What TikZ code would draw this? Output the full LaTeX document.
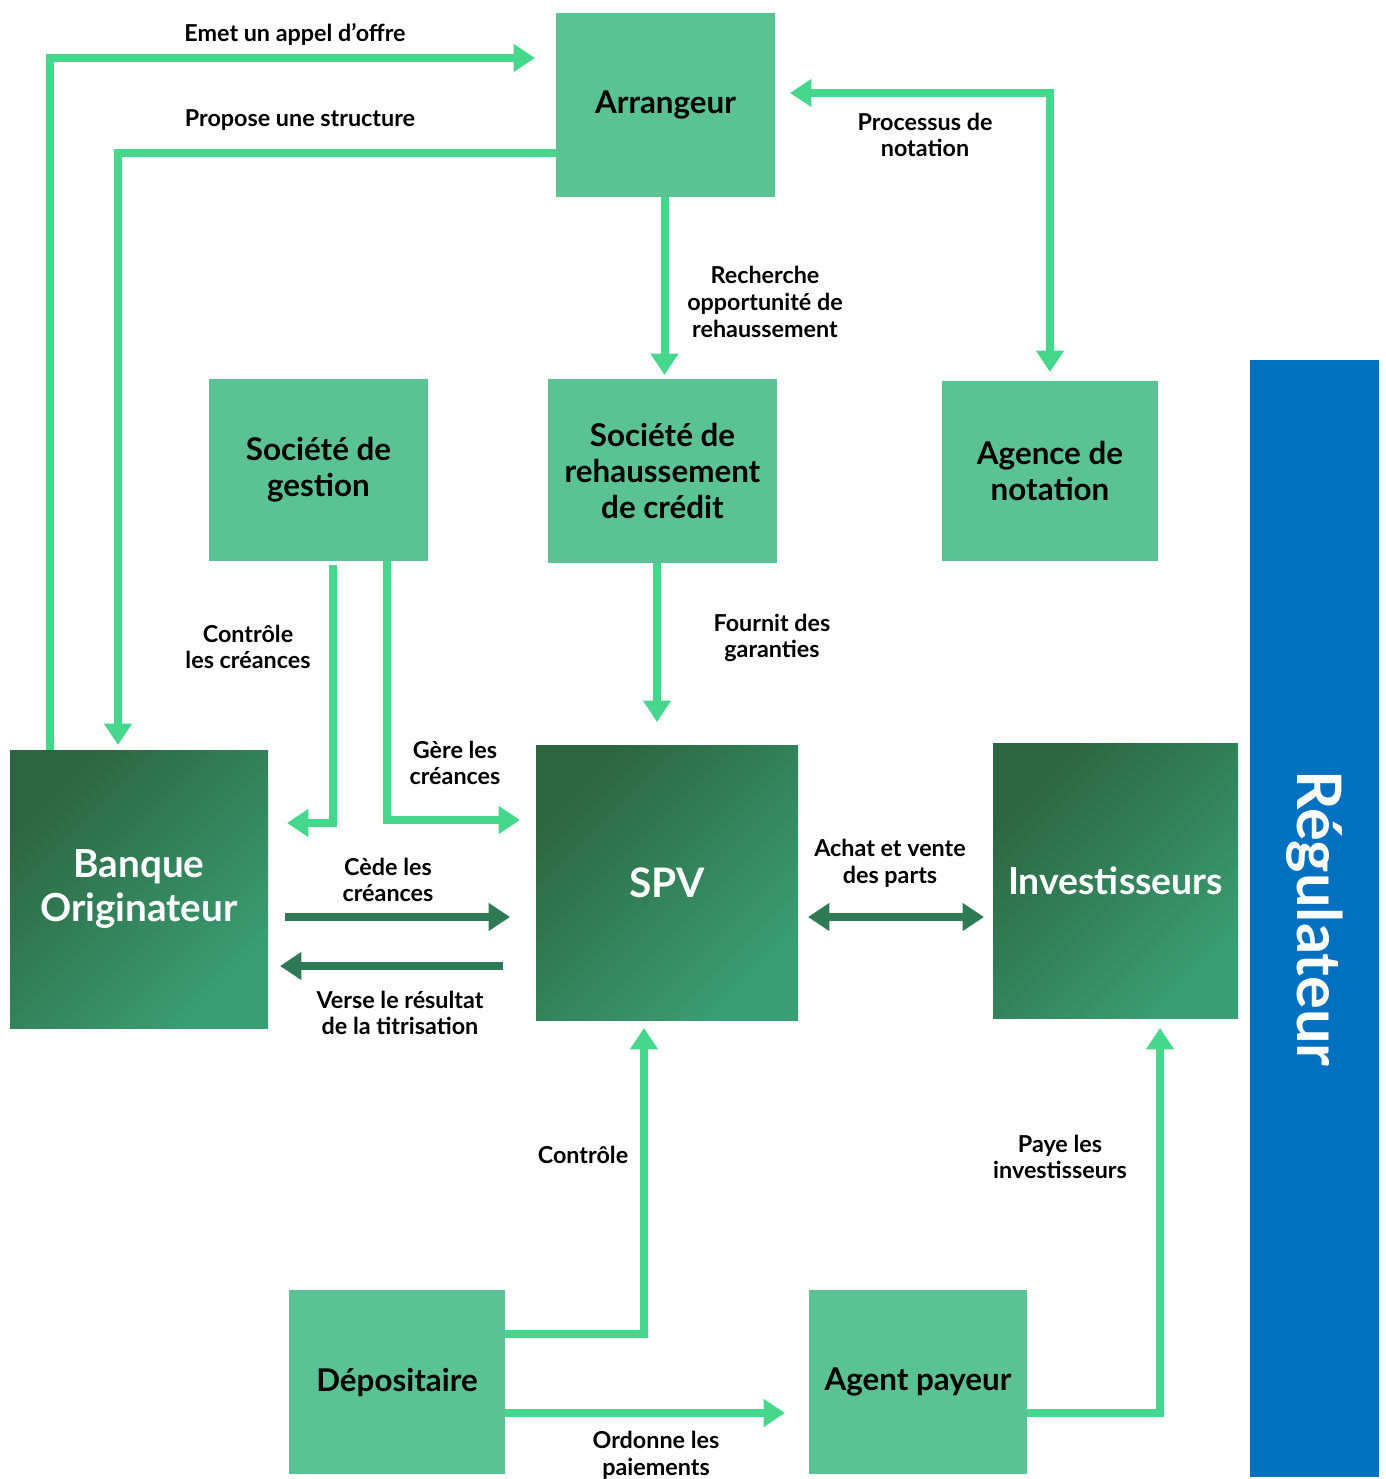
\documentclass[tikz,border=0pt]{standalone}
\usepackage{fontspec}
\setmainfont{Lato}
\usetikzlibrary{arrows.meta,calc}
\definecolor{boxg}{HTML}{5BC393}
\definecolor{arrg}{HTML}{45D88D}
\definecolor{darkarr}{HTML}{2E7A56}
\definecolor{gdark}{HTML}{2C6640}
\definecolor{glight}{HTML}{3A9E74}
\definecolor{regblue}{HTML}{0070C0}
\begin{document}
\begin{tikzpicture}[x=0.75pt,y=-0.75pt,
  sz/.style 2 args={minimum width=#1*0.75pt, minimum height=#2*0.75pt},
  lbox/.style={draw=none, fill=boxg, inner sep=0pt, outer sep=0pt, align=center,
    font=\fontsize{23.5}{27}\selectfont\bfseries, text=black},
  dbox/.style={draw=none, inner sep=0pt, outer sep=0pt, align=center,
    top color=gdark, bottom color=glight, shading angle=45,
    font=\fontsize{29}{33}\selectfont\bfseries, text=white},
  lab/.style={align=center, font=\fontsize{17.5}{20}\selectfont\bfseries, text=black, inner sep=0pt},
  la/.style={draw=arrg, line width=6pt, -{Triangle[length=16pt,width=20pt]}},
  la2/.style={draw=arrg, line width=6pt, {Triangle[length=16pt,width=20pt]}-{Triangle[length=16pt,width=20pt]}},
  da/.style={draw=darkarr, line width=6pt, -{Triangle[length=16pt,width=20pt]}},
  da2/.style={draw=darkarr, line width=6pt, {Triangle[length=16pt,width=20pt]}-{Triangle[length=16pt,width=20pt]}},
]
\useasboundingbox[fill=white] (0,0) rectangle (1386,1479);

% boxes
\node[lbox, sz={219}{184}] (arrangeur) at (665.5,105) {Arrangeur};
\node[lbox, sz={219}{182}] (gestion) at (318.5,470) {Société de\\gestion};
\node[lbox, sz={229}{184}] (rehauss) at (662.5,471) {Société de\\rehaussement\\de crédit};
\node[lbox, sz={216}{180}] (agence) at (1050,471) {Agence de\\notation};
\node[dbox, sz={258}{278}] (banque) at (139,889) {Banque\\Originateur};
\node[dbox, sz={262}{275}, font=\fontsize{30.5}{33}\selectfont\bfseries] (spv) at (667,882.5) {SPV};
\node[dbox, sz={245}{275}, font=\fontsize{28}{33}\selectfont\bfseries] (invest) at (1115.5,880.5) {Investisseurs};
\node[draw=none, fill=regblue, inner sep=0pt, outer sep=0pt, sz={129}{1117}] (regul) at (1314.5,918.5) {};
\node[rotate=-90, text=white, font=\fontsize{46}{50}\selectfont\bfseries] (regtxt) at (regul.center) {Régulateur};
\node[lbox, sz={216}{184}] (depos) at (397,1382) {Dépositaire};
\node[lbox, sz={218}{184}] (agent) at (918,1382) {Agent payeur};

% connectors
\draw[la] ($(banque.north west)+(40,0)$) |- ($(arrangeur.north west)+(-21,45)$);
\draw[la] ($(arrangeur.south west)+(0,-44)$) -| ($(banque.north west)+(108,-5)$);
\draw[la2] ($(arrangeur.east)+(15,-12)$) -| ($(agence.north)+(0,-9)$);
\draw[la] ($(arrangeur.south)+(-1,0)$) -- ($(rehauss.north)+(2,-4)$);
\draw[la] ($(gestion.south west)+(124,4)$) |- ($(banque.north east)+(19,73)$);
\draw[la] ($(gestion.south west)+(178,0)$) |- ($(spv.north west)+(-16,75)$);
\draw[la] ($(rehauss.south)+(-5.5,0)$) -- ($(spv.north)+(-10,-23)$);
\draw[da] ($(banque.east)+(17,28)$) -- ($(spv.west)+(-26,34.5)$);
\draw[da] ($(spv.west)+(-33,83.5)$) -- ($(banque.east)+(12,77)$);
\draw[da2] ($(spv.east)+(10,34.5)$) -- ($(invest.west)+(-9,36.5)$);
\draw[la] ($(depos.north east)+(0,44)$) -| ($(spv.south)+(-23,8)$);
\draw[la] ($(depos.south east)+(0,-61)$) -- ($(agent.south west)+(-24,-61)$);
\draw[la] ($(agent.south east)+(0,-61)$) -| ($(invest.south east)+(-78,10)$);

% labels
\node[lab] (l1) at (295,34) {Emet un appel d’offre};
\node[lab] (l2) at (300,120) {Propose une structure};
\node[lab] (l3) at (925,135) {Processus de\\notation};
\node[lab] (l4) at (765,302) {Recherche\\opportunité de\\rehaussement};
\node[lab] (l5) at (248,647) {Contrôle\\les créances};
\node[lab] (l6) at (455,763) {Gère les\\créances};
\node[lab] (l7) at (772,638) {Fournit des\\garanties};
\node[lab] (l8) at (388,880) {Cède les\\créances};
\node[lab] (l9) at (400,1013) {Verse le résultat\\de la titrisation};
\node[lab] (l10) at (890,863) {Achat et vente\\des parts};
\node[lab] (l11) at (583,1155) {Contrôle};
\node[lab] (l12) at (656,1455) {Ordonne les\\paiements};
\node[lab] (l13) at (1060,1157) {Paye les\\investisseurs};
\end{tikzpicture}
\end{document}
